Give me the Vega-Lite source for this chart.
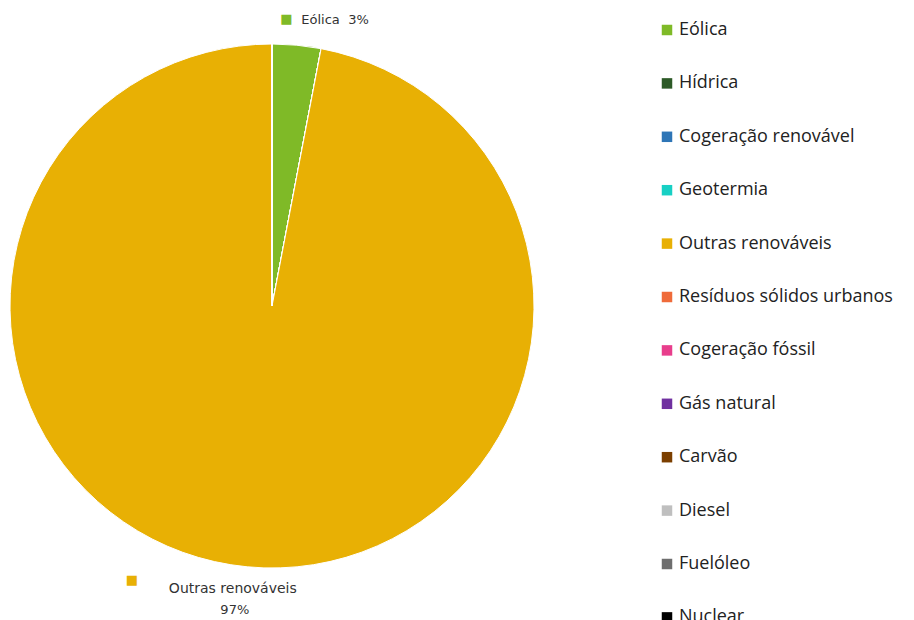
{
  "$schema": "https://vega.github.io/schema/vega-lite/v6.json",
  "width": 544,
  "height": 612,
  "padding": {"left": 0, "top": 0, "right": 370, "bottom": 8},
  "autosize": {"type": "none"},
  "background": "white",
  "config": {"view": {"stroke": null}, "font": "DejaVu Sans"},
  "data": {"values": [
    {"idx": 1, "fonte": "Eólica", "valor": 0.03},
    {"idx": 2, "fonte": "Hídrica", "valor": 0},
    {"idx": 3, "fonte": "Cogeração renovável", "valor": 0},
    {"idx": 4, "fonte": "Geotermia", "valor": 0},
    {"idx": 5, "fonte": "Outras renováveis", "valor": 0.97},
    {"idx": 6, "fonte": "Resíduos sólidos urbanos", "valor": 0},
    {"idx": 7, "fonte": "Cogeração fóssil", "valor": 0},
    {"idx": 8, "fonte": "Gás natural", "valor": 0},
    {"idx": 9, "fonte": "Carvão", "valor": 0},
    {"idx": 10, "fonte": "Diesel", "valor": 0},
    {"idx": 11, "fonte": "Fuelóleo", "valor": 0},
    {"idx": 12, "fonte": "Nuclear", "valor": 0}
  ]},
  "encoding": {
    "theta": {"field": "valor", "type": "quantitative", "stack": true},
    "order": {"field": "idx", "type": "quantitative"},
    "color": {
      "field": "fonte",
      "type": "nominal",
      "scale": {
        "domain": ["Eólica", "Hídrica", "Cogeração renovável", "Geotermia", "Outras renováveis", "Resíduos sólidos urbanos", "Cogeração fóssil", "Gás natural", "Carvão", "Diesel", "Fuelóleo", "Nuclear"],
        "range": ["#7FBA27", "#2D5A27", "#2E75B6", "#17D0C4", "#E8B004", "#EF6B3A", "#E83E8C", "#7030A0", "#7B3F00", "#BFBFBF", "#6E6E6E", "#000000"]
      },
      "legend": {
        "title": null,
        "orient": "none",
        "legendX": 658,
        "legendY": 21,
        "symbolType": "square",
        "symbolSize": 110,
        "symbolStrokeWidth": 0,
        "labelFontSize": 18,
        "labelFont": "Open Sans",
        "labelColor": "#222222",
        "labelOffset": 3,
        "rowPadding": 35.4,
        "labelLimit": 300
      }
    }
  },
  "layer": [
    {
      "mark": {"type": "arc", "outerRadius": 262, "stroke": "white", "strokeWidth": 1}
    },
    {
      "transform": [{"filter": "datum.fonte === 'Eólica'"}],
      "mark": {"type": "text", "radius": 290, "align": "left", "baseline": "middle", "dx": 2, "dy": 3, "fontSize": 13},
      "encoding": {"text": {"field": "fonte"}, "color": {"value": "#333333"}}
    },
    {
      "transform": [{"filter": "datum.fonte === 'Eólica'"}],
      "mark": {"type": "text", "radius": 290, "align": "left", "baseline": "middle", "dx": 49, "dy": 3, "fontSize": 13},
      "encoding": {"text": {"field": "valor", "format": ".0%"}, "color": {"value": "#333333"}}
    },
    {
      "transform": [{"filter": "datum.fonte === 'Eólica'"}],
      "mark": {"type": "text", "radius": 290, "align": "center", "baseline": "middle", "dx": -13, "dy": 2, "fontSize": 13, "text": "■"},
      "encoding": {}
    },
    {
      "transform": [{"filter": "datum.fonte === 'Outras renováveis'"}],
      "mark": {"type": "text", "radius": 285, "align": "center", "baseline": "middle", "dx": -66, "dy": -1, "fontSize": 14},
      "encoding": {"text": {"field": "fonte"}, "color": {"value": "#333333"}}
    },
    {
      "transform": [{"filter": "datum.fonte === 'Outras renováveis'"}],
      "mark": {"type": "text", "radius": 285, "align": "center", "baseline": "middle", "dx": -64, "dy": 20, "fontSize": 13},
      "encoding": {"text": {"field": "valor", "format": ".0%"}, "color": {"value": "#333333"}}
    },
    {
      "transform": [{"filter": "datum.fonte === 'Outras renováveis'"}],
      "mark": {"type": "text", "radius": 285, "align": "center", "baseline": "middle", "dx": -167, "dy": -10, "fontSize": 13, "text": "■"},
      "encoding": {}
    }
  ]
}
